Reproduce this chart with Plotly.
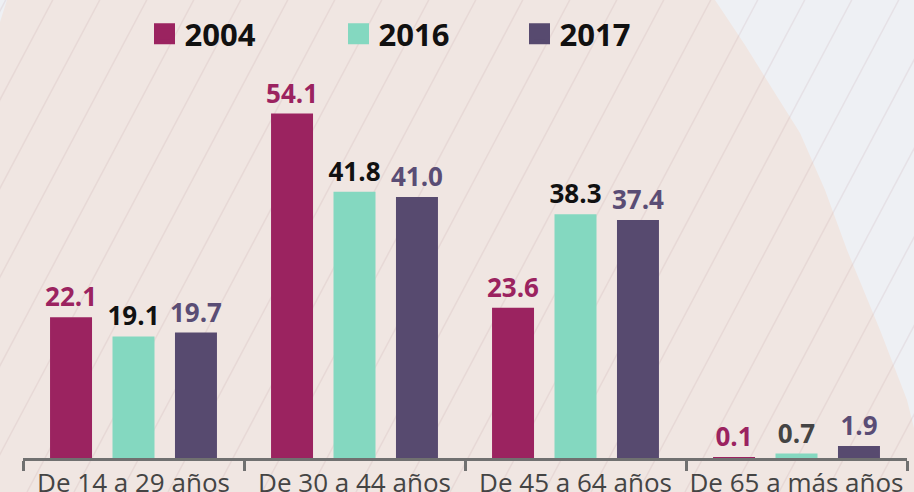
import plotly.graph_objects as go

categories = ["De 14 a 29 años", "De 30 a 44 años", "De 45 a 64 años", "De 65 a más años"]
years = ["2004", "2016", "2017"]
v2004 = [22.1, 54.1, 23.6, 0.1]
v2016 = [19.1, 41.8, 38.3, 0.7]
v2017 = [19.7, 41.0, 37.4, 1.9]

colors = ["#9b2360", "#84d8c0", "#574a6f"]
label_colors = [["#9b2360"] * 4, ["#111111", "#111111", "#111111", "#444444"], ["#5a4d75"] * 4]

W, H = 914, 492
ML, MR, MT, MB = 23, 7, 76, 34
PW = W - ML - MR
PH = H - MT - MB


def px(X):
    return (X - ML) / PW


def py(Y):
    return (H - MB - Y) / PH


fig = go.Figure()
for name, vals, col, tcol in zip(years, [v2004, v2016, v2017], colors, label_colors):
    fig.add_trace(go.Bar(
        x=categories, y=vals, name=name,
        marker=dict(color=col, line=dict(width=0)),
        text=[f"{v:.1f}" for v in vals], textposition="outside",
        textfont=dict(family="Open Sans", size=26, color=tcol, weight="bold"),
        constraintext="none", cliponaxis=False, showlegend=False, hoverinfo="skip",
    ))

# legend keys
for i, (name, col) in enumerate(zip(years, colors)):
    fig.add_trace(go.Scatter(
        x=[None], y=[None], mode="markers", name=name,
        marker=dict(symbol="square", size=16, color=col, line=dict(width=5, color=col)),
        legend="legend" if i == 0 else f"legend{i+1}", showlegend=True,
    ))

legend_x = [144.5, 338.5, 519.5]
leg_common = dict(orientation="h", xanchor="left", yanchor="middle",
                  bgcolor="rgba(0,0,0,0)", borderwidth=0,
                  font=dict(family="Open Sans", size=31, color="#111111", weight="bold"))
legends = {}
for i, lx in enumerate(legend_x):
    key = "legend" if i == 0 else f"legend{i+1}"
    legends[key] = dict(x=px(lx), y=py(34), **leg_common)

# background decoration
shapes = []
pink = [(0, 22), (7, 0), (715, 0), (745, 45), (773, 90), (800, 133), (825, 190), (847, 250),
        (880, 330), (907, 400), (914, 428), (914, 492), (0, 492)]
path = "M " + " L ".join(f"{px(X):.5f},{py(Y):.5f}" for X, Y in pink) + " Z"
shapes.append(dict(type="path", xref="paper", yref="paper", path=path,
                   fillcolor="#f0e6e2", line=dict(width=0), layer="below"))
for k in range(-10, 25):
    x0 = k * 47 - 20
    shapes.append(dict(type="line", xref="paper", yref="paper",
                       x0=px(x0), y0=py(492), x1=px(x0 + 0.53 * 492), y1=py(0),
                       line=dict(color="rgba(170,120,130,0.12)", width=1.5), layer="below"))

fig.update_layout(
    width=W, height=H,
    margin=dict(l=ML, r=MR, t=MT, b=MB, pad=0, autoexpand=False),
    paper_bgcolor="#eef0f4", plot_bgcolor="rgba(0,0,0,0)",
    barmode="group", bargap=0.152, bargroupgap=0.328,
    shapes=shapes,
    xaxis=dict(range=[-0.5, 3.5], showline=True, linecolor="#707070", linewidth=3,
               ticks="outside", ticklen=10, tickwidth=3, tickcolor="#707070",
               tickson="boundaries", showgrid=False, zeroline=False, tickangle=0,
               automargin=False,
               tickfont=dict(family="Open Sans", size=26, color="#444444")),
    yaxis=dict(range=[0, 60], visible=False, showgrid=False, zeroline=False, automargin=False),
    **legends,
)

fig.write_html("out.html", config={"displayModeBar": False},
               post_script="document.body.style.margin='0';document.body.style.overflow='hidden';")
